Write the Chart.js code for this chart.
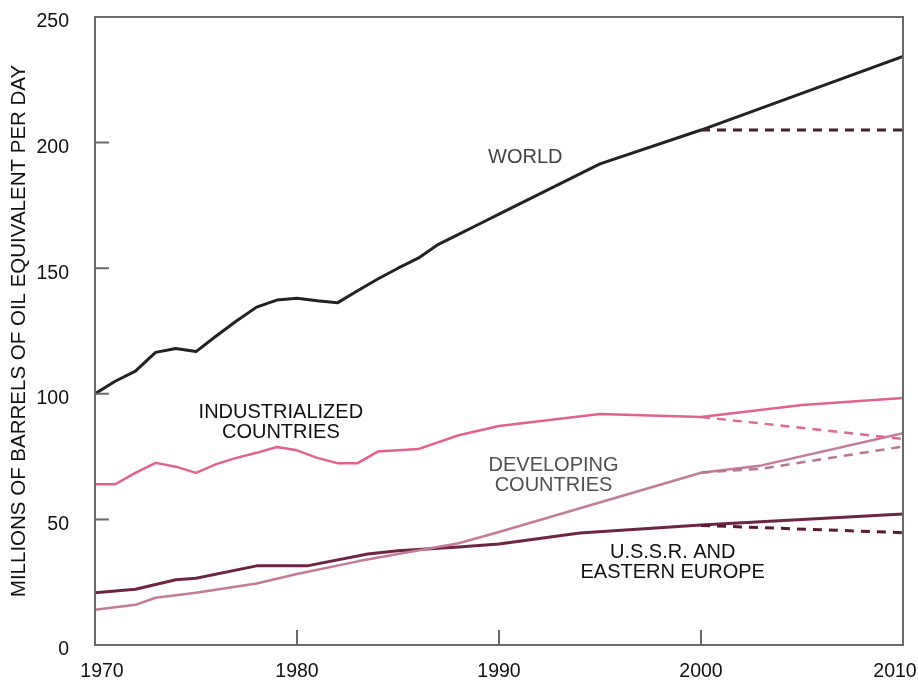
<!DOCTYPE html>
<html>
<head>
<meta charset="utf-8">
<script src="https://cdn.jsdelivr.net/npm/chart.js@4.4.1/dist/chart.umd.min.js"></script>
<style>
  html, body { margin: 0; padding: 0; background: #ffffff; }
  #wrap { width: 918px; height: 683px; }
</style>
</head>
<body>
<div id="wrap"><canvas id="c" width="918" height="683"></canvas></div>
<script>
// ---- data ----
const worldYears  = [1970,1971,1972,1973,1974,1975,1976,1977,1978,1979,1980,1981,1982,1983,1984,1985,1986,1987,1988,1989,1990,1995,2000,2010];
const worldValues = [100,105,109,116.5,118,116.8,123,129,134.5,137.3,138,137,136.2,141,145.7,150,154,159.5,163.5,167.5,171.5,191.5,205,234.3];
const worldLowYears  = [2000,2010];
const worldLowValues = [205,205];

const indYears  = [1970,1971,1972,1973,1974,1975,1976,1977,1978,1979,1980,1981,1982,1983,1984,1986,1988,1990,1995,2000,2005,2010];
const indValues = [64,64,68.5,72.5,71,68.5,72,74.5,76.5,78.8,77.5,74.5,72.4,72.4,77,78,83.5,87.2,92,90.8,95.5,98.3];
const indLowYears  = [2000,2010];
const indLowValues = [90.8,82];

const devYears  = [1970,1972,1973,1975,1978,1980,1983,1985,1988,1990,2000,2003,2010];
const devValues = [14,16,18.8,20.8,24.5,28.3,33.3,36.2,40.5,45,68.6,71.5,84.3];
const devLowYears  = [2000,2003,2010];
const devLowValues = [68.6,70.2,79];

const ussrYears  = [1970,1972,1974,1975,1978,1980.5,1983.5,1985,1988,1990,1994,2000,2010];
const ussrValues = [20.8,22.2,26,26.6,31.5,31.5,36.2,37.5,39,40.2,44.6,47.8,52.2];
const ussrLowYears  = [2000,2010];
const ussrLowValues = [47.6,44.7];

const yTicks = [0,50,100,150,200,250];
const xTicks = [1970,1980,1990,2000,2010];

const labels = [
  { text: ['WORLD'], year: 1991.3, value: 194, color: '#444444' },
  { text: ['INDUSTRIALIZED','COUNTRIES'], year: 1979.2, value: 88.6, color: '#111111' },
  { text: ['DEVELOPING','COUNTRIES'], year: 1992.7, value: 67.5, color: '#505050' },
  { text: ['U.S.S.R. AND','EASTERN EUROPE'], year: 1998.6, value: 32.8, color: '#111111' }
];

const pts = (xs, ys) => xs.map((x, i) => ({ x: x, y: ys[i] }));

const FONT = '"Liberation Sans", Arial, Helvetica, sans-serif';

function lineDs(xs, ys, color, width, dashed) {
  return {
    data: pts(xs, ys),
    borderColor: color,
    borderWidth: width,
    borderDash: dashed ? [9, 7] : [],
    pointRadius: 0,
    tension: 0,
    fill: false,
    borderCapStyle: 'butt',
    borderJoinStyle: 'round'
  };
}

const framePlugin = {
  id: 'frame',
  afterDatasetsDraw(chart) {
    const ctx = chart.ctx;
    const a = chart.chartArea;
    const xs = chart.scales.x, ys = chart.scales.y;
    ctx.save();
    // frame
    ctx.strokeStyle = '#6a6a6a';
    ctx.lineWidth = 2;
    ctx.strokeRect(a.left, a.top, a.right - a.left, a.bottom - a.top);
    // inward ticks
    ctx.beginPath();
    yTicks.forEach(v => {
      if (v === yTicks[0] || v === yTicks[yTicks.length - 1]) return;
      const p = ys.getPixelForValue(v);
      ctx.moveTo(a.left, p); ctx.lineTo(a.left + 14, p);
    });
    xTicks.forEach(v => {
      if (v === xTicks[0] || v === xTicks[xTicks.length - 1]) return;
      const p = xs.getPixelForValue(v);
      ctx.moveTo(p, a.bottom); ctx.lineTo(p, a.bottom - 15);
    });
    ctx.stroke();
    // x tick labels
    ctx.fillStyle = '#111111';
    ctx.font = '19.5px ' + FONT;
    ctx.textAlign = 'center';
    ctx.textBaseline = 'middle';
    xTicks.forEach(v => {
      let p = xs.getPixelForValue(v);
      p = Math.min(Math.max(p, a.left + 7), a.right - 8);
      ctx.fillText(String(v), p, a.bottom + 27);
    });
    // series labels
    ctx.font = '20px ' + FONT;
    labels.forEach(l => {
      const cx = xs.getPixelForValue(l.year);
      const cy = ys.getPixelForValue(l.value);
      ctx.fillStyle = l.color;
      const lh = 20;
      const n = l.text.length;
      l.text.forEach((t, i) => {
        ctx.fillText(t, cx, cy + (i - (n - 1) / 2) * lh);
      });
    });
    ctx.restore();
  }
};

new Chart(document.getElementById('c'), {
  type: 'line',
  data: {
    datasets: [
      lineDs(worldLowYears, worldLowValues, '#3d2430', 3, true),
      lineDs(indLowYears, indLowValues, '#dc6a92', 2.5, true),
      lineDs(devLowYears, devLowValues, '#b77792', 2.5, true),
      lineDs(ussrLowYears, ussrLowValues, '#5a1a36', 3, true),
      lineDs(devYears, devValues, '#c47b98', 2.5, false),
      lineDs(ussrYears, ussrValues, '#6e2444', 3, false),
      lineDs(indYears, indValues, '#e2628d', 2.5, false),
      lineDs(worldYears, worldValues, '#222222', 3, false)
    ]
  },
  options: {
    responsive: false,
    animation: false,
    devicePixelRatio: 1,
    layout: { padding: { top: 17, right: 15, left: 0, bottom: 0 } },
    plugins: { legend: { display: false }, tooltip: { enabled: false } },
    scales: {
      x: {
        type: 'linear',
        min: xTicks[0],
        max: xTicks[xTicks.length - 1],
        grid: { display: false },
        border: { display: false },
        ticks: { display: false },
        afterFit(s) { s.height = 38; s.paddingLeft = 0; s.paddingRight = 0; }
      },
      y: {
        type: 'linear',
        min: yTicks[0],
        max: yTicks[yTicks.length - 1],
        grid: { display: false },
        border: { display: false },
        afterBuildTicks(s) { s.ticks = yTicks.map(v => ({ value: v })); },
        ticks: {
          color: '#111111',
          font: { family: FONT, size: 19.5 },
          padding: 18,
          labelOffset: 5
        },
        title: {
          display: true,
          text: 'MILLIONS OF BARRELS OF OIL EQUIVALENT PER DAY',
          color: '#111111',
          font: { family: FONT, size: 20.5 },
          padding: { top: 7, bottom: 0 }
        },
        afterFit(s) { s.width = 95; s.paddingTop = 0; s.paddingBottom = 0; }
      }
    }
  },
  plugins: [framePlugin]
});
</script>
</body>
</html>
